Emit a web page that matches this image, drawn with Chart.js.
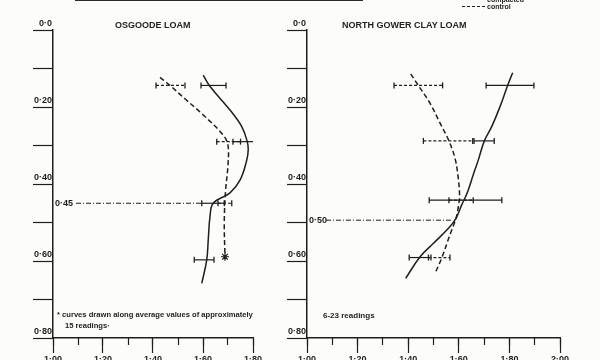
<!DOCTYPE html>
<html><head><meta charset="utf-8">
<script src="https://cdn.jsdelivr.net/npm/chart.js@4.4.0/dist/chart.umd.min.js"></script>
<style>
html,body{margin:0;padding:0;background:#fcfcfb;}
#wrap{position:relative;width:600px;height:360px;overflow:hidden;background:#fcfcfb;font-family:"Liberation Sans",Arial,sans-serif;color:#1e1e1e;}
canvas{position:absolute;top:0;}
.t{position:absolute;white-space:nowrap;font-weight:bold;line-height:1;}
</style></head><body>
<div id="wrap">
<canvas id="cL" width="300" height="360" style="left:0;width:300px;height:360px"></canvas>
<canvas id="cR" width="340" height="360" style="left:260px;width:340px;height:360px"></canvas>
<div style="position:absolute;left:75px;top:-1px;width:288px;height:2px;background:#2a2a2a"></div>
<div class="t" style="left:115px;top:21px;font-size:9px">OSGOODE LOAM</div>
<div class="t" style="left:342px;top:21px;font-size:9px">NORTH GOWER CLAY LOAM</div>
<div style="position:absolute;left:462px;top:-2px;width:23px;border-top:1.5px solid #1e1e1e"></div>
<div class="t" style="left:487px;top:-4px;font-size:7px">compacted</div>
<div style="position:absolute;left:462px;top:6px;width:23px;border-top:1.5px dashed #1e1e1e"></div>
<div class="t" style="left:487px;top:3px;font-size:7px">control</div>
<div class="t" style="left:57px;top:311px;font-size:7.6px">* curves drawn along average values of approximately</div>
<div class="t" style="left:65px;top:322px;font-size:7.6px">15 readings·</div>
<div class="t" style="left:323px;top:312px;font-size:8px">6-23 readings</div>
</div>
<script>
// ---- Osgoode Loam (left panel) ----
const leftCompactedX = [1.601, 1.625, 1.708, 1.755, 1.777, 1.781, 1.775, 1.748, 1.708, 1.641, 1.628, 1.621, 1.615, 1.595];
const leftCompactedY = [0.117, 0.144, 0.208, 0.251, 0.290, 0.310, 0.338, 0.390, 0.423, 0.450, 0.485, 0.545, 0.597, 0.658];
const leftControlX = [1.428, 1.468, 1.530, 1.600, 1.681, 1.700, 1.700, 1.690, 1.685, 1.688];
const leftControlY = [0.123, 0.144, 0.180, 0.220, 0.273, 0.300, 0.350, 0.420, 0.500, 0.589];
const leftCompBarDepth = [0.144, 0.290, 0.450, 0.597];
const leftCompBarLow = [1.592, 1.720, 1.595, 1.565];
const leftCompBarHigh = [1.692, 1.820, 1.685, 1.644];
const leftCtrlBarDepth = [0.144, 0.290, 0.450];
const leftCtrlBarLow = [1.412, 1.655, 1.660];
const leftCtrlBarHigh = [1.528, 1.750, 1.715];
const leftStarPoint = [1.688, 0.589];
const leftRefDepth = 0.45, leftRefLabel = "0·45", leftRefFrom = 1.092, leftRefTo = 1.595;
const leftXMax = 1.80;

// ---- North Gower Clay Loam (right panel) ----
const rightCompactedX = [1.813, 1.793, 1.763, 1.730, 1.701, 1.677, 1.660, 1.635, 1.611, 1.589, 1.559, 1.500, 1.447, 1.390];
const rightCompactedY = [0.111, 0.144, 0.199, 0.251, 0.288, 0.338, 0.370, 0.420, 0.455, 0.489, 0.515, 0.554, 0.589, 0.645];
const rightControlX = [1.410, 1.440, 1.486, 1.526, 1.561, 1.585, 1.597, 1.603, 1.598, 1.589, 1.565, 1.532, 1.506];
const rightControlY = [0.114, 0.144, 0.190, 0.242, 0.288, 0.333, 0.380, 0.430, 0.460, 0.489, 0.532, 0.593, 0.632];
const rightCompBarDepth = [0.144, 0.288, 0.442, 0.591];
const rightCompBarLow = [1.708, 1.660, 1.483, 1.404];
const rightCompBarHigh = [1.897, 1.740, 1.770, 1.490];
const rightCtrlBarDepth = [0.144, 0.288, 0.442, 0.591];
const rightCtrlBarLow = [1.344, 1.460, 1.561, 1.480];
const rightCtrlBarHigh = [1.536, 1.655, 1.657, 1.565];
const rightRefDepth = 0.494, rightRefLabel = "0·50", rightRefFrom = 1.075, rightRefTo = 1.572;
const rightXMax = 2.00;

const yTickValues = [0, 0.1, 0.2, 0.3, 0.4, 0.5, 0.6, 0.7, 0.8];
const FAMILY = '"Liberation Sans", Arial, sans-serif';
const INK = '#1e1e1e';

function pts(xs, ys){ return xs.map((x,i)=>({x:x, y:ys[i]})); }
function fmtX(v){ const r = Math.round(v*10); return (r % 2 === 0) ? v.toFixed(2).replace('.', '·') : ''; }
function fmtY(v){ const r = Math.round(v*10); if (r === 0) return '0·0'; return (r % 2 === 0) ? v.toFixed(2).replace('.', '·') : ''; }

function barSets(depths, lows, highs, dashed){
  return depths.map((d,i)=>({
    data:[{x:lows[i], y:d},{x:highs[i], y:d}],
    showLine:true, borderColor:INK, borderWidth:1.2, borderDash: dashed ? [3,2] : [],
    pointStyle:'line', rotation:90, pointRadius:3, pointBorderColor:INK, pointBorderWidth:1.3, pointHoverRadius:3
  }));
}

const refLabelPlugin = {
  id:'refLabel',
  afterDatasetsDraw(chart){
    const o = chart.options.plugins.refLabel;
    const ctx = chart.ctx;
    const xs = chart.scales.x, ys = chart.scales.y;
    ctx.save();
    ctx.font = 'bold 9px ' + FAMILY;
    ctx.fillStyle = INK;
    ctx.textAlign = 'left';
    ctx.textBaseline = 'middle';
    ctx.fillText(o.text, xs.getPixelForValue(1.0) + 2, ys.getPixelForValue(o.depth));
    ctx.restore();
  }
};

function makeChart(id, cfg){
  const datasets = [
    {data:pts(cfg.compX, cfg.compY), showLine:true, borderColor:INK, borderWidth:1.5, pointRadius:0, tension:0.4},
    {data:pts(cfg.ctrlX, cfg.ctrlY), showLine:true, borderColor:INK, borderWidth:1.5, borderDash:[5,3], pointRadius:0, tension:0.35},
    {data:[{x:cfg.refFrom, y:cfg.refDepth},{x:cfg.refTo, y:cfg.refDepth}], showLine:true, borderColor:INK, borderWidth:1, borderDash:[5,2,1,2], pointRadius:0}
  ].concat(barSets(cfg.compBarD, cfg.compBarL, cfg.compBarH, false))
   .concat(barSets(cfg.ctrlBarD, cfg.ctrlBarL, cfg.ctrlBarH, true));
  if (cfg.star) datasets.push({data:[{x:cfg.star[0], y:cfg.star[1]}], pointStyle:'star', pointRadius:4, pointBorderColor:INK, pointBorderWidth:1.2, showLine:false});
  return new Chart(document.getElementById(id), {
    type:'scatter',
    data:{datasets:datasets},
    plugins:[refLabelPlugin],
    options:{
      responsive:false, animation:false, devicePixelRatio:1,
      layout:{padding:{left:0, top:30, right:cfg.padRight, bottom:0}},
      plugins:{legend:{display:false}, tooltip:{enabled:false}, refLabel:{text:cfg.refLabel, depth:cfg.refDepth}},
      scales:{
        x:{type:'linear', position:'bottom', min:1, max:cfg.xMax, weight:1,
           ticks:{stepSize:0.1, autoSkip:false, maxRotation:0, padding:1, color:INK, font:{size:9, weight:'bold', family:FAMILY}, callback:fmtX},
           grid:{drawOnChartArea:false, tickLength:15, color:(c)=> (Math.round(c.tick.value*10)%2===0 ? INK : 'rgba(0,0,0,0)'), tickWidth:1.2},
           border:{display:true, color:INK, width:1.5},
           afterFit(s){ s.height = 22; }},
        xm:{type:'linear', position:'bottom', min:1, max:cfg.xMax, weight:0,
           ticks:{stepSize:0.1, display:false},
           grid:{drawOnChartArea:false, tickLength:7, color:INK, tickWidth:1.2},
           border:{display:false},
           afterFit(s){ s.height = 0; }},
        y:{type:'linear', position:'left', min:0, max:0.8, reverse:true,
           afterBuildTicks(s){ s.ticks = yTickValues.map(v=>({value:v})); },
           ticks:{autoSkip:false, padding:-19, labelOffset:-6, color:INK, font:{size:9, weight:'bold', family:FAMILY}, callback:fmtY},
           grid:{drawOnChartArea:false, tickLength:20, color:INK, tickWidth:1.2},
           border:{display:true, color:INK, width:1.5},
           afterFit(s){ s.width = cfg.yWidth; }}
      }
    }
  });
}

makeChart('cL', {compX:leftCompactedX, compY:leftCompactedY, ctrlX:leftControlX, ctrlY:leftControlY,
  compBarD:leftCompBarDepth, compBarL:leftCompBarLow, compBarH:leftCompBarHigh,
  ctrlBarD:leftCtrlBarDepth, ctrlBarL:leftCtrlBarLow, ctrlBarH:leftCtrlBarHigh,
  star:leftStarPoint, refDepth:leftRefDepth, refLabel:leftRefLabel, refFrom:leftRefFrom, refTo:leftRefTo,
  xMax:leftXMax, yWidth:53, padRight:47});
makeChart('cR', {compX:rightCompactedX, compY:rightCompactedY, ctrlX:rightControlX, ctrlY:rightControlY,
  compBarD:rightCompBarDepth, compBarL:rightCompBarLow, compBarH:rightCompBarHigh,
  ctrlBarD:rightCtrlBarDepth, ctrlBarL:rightCtrlBarLow, ctrlBarH:rightCtrlBarHigh,
  star:null, refDepth:rightRefDepth, refLabel:rightRefLabel, refFrom:rightRefFrom, refTo:rightRefTo,
  xMax:rightXMax, yWidth:47, padRight:40});
</script>
</body></html>
